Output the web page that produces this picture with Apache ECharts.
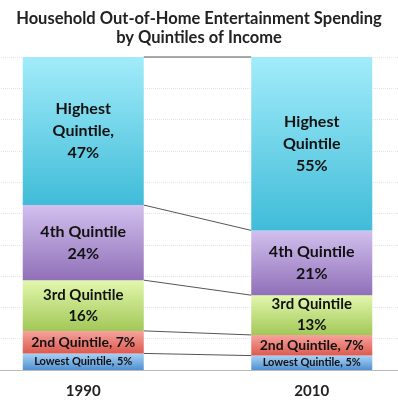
<!DOCTYPE html>
<html>
<head>
<meta charset="utf-8">
<script src="https://cdn.jsdelivr.net/npm/echarts@6/dist/echarts.min.js"></script>
<style>
    html, body { margin: 0; padding: 0; background: #fff; }
    #chart { width: 398px; height: 403px; }
</style>
</head>
<body>
<div id="chart"></div>
<script>
const years = ['1990', '2010'];
const quintiles = ['Lowest', '2nd', '3rd', '4th', 'Highest'];
const share1990 = [5.3, 7.2, 16.2, 24, 47.3];
const share2010 = [4.6, 6.6, 12.7, 20.7, 55.4];
const labels1990 = ['Lowest Quintile, 5%', '2nd Quintile, 7%', '3rd Quintile\n16%', '4th Quintile\n24%', 'Highest\nQuintile,\n47%'];
const labels2010 = ['Lowest Quintile, 5%', '2nd Quintile, 7%', '3rd Quintile\n13%', '4th Quintile\n21%', 'Highest\nQuintile\n55%'];

const FONT = 'Lato, "Open Sans", sans-serif';
// top -> bottom gradient for each segment
const fills = [
    ['#a8d2f6', '#5090d0'],
    ['#f6a49e', '#dc5a50'],
    ['#e2f7ac', '#a2c858'],
    ['#d2c0ee', '#9070b8'],
    ['#a2ecfa', '#40bcd8'],
];
const labelSizes = [11, 14, 15, 16, 16];
const BAR_W = 121;

// cumulative tops for the connector lines
let c1 = 0, c2 = 0;
const joins = quintiles.map((q, i) => {
    c1 += share1990[i];
    c2 += share2010[i];
    return [0, c1, c2];
});

const series = quintiles.map((q, i) => ({
    name: q,
    type: 'bar',
    stack: 'total',
    barWidth: BAR_W,
    data: [share1990[i], share2010[i]],
    itemStyle: {
        color: new echarts.graphic.LinearGradient(0, 0, 0, 1, [
            { offset: 0, color: fills[i][0] },
            { offset: 1, color: fills[i][1] },
        ]),
    },
    label: {
        show: true,
        position: 'inside',
        color: '#111',
        fontFamily: FONT,
        fontWeight: 'bold',
        fontSize: labelSizes[i],
        lineHeight: labelSizes[i] + 6,
        formatter: (p) => (p.dataIndex === 0 ? labels1990 : labels2010)[i],
    },
    emphasis: { disabled: true },
}));

series.push({
    type: 'custom',
    data: joins,
    encode: { x: 0, y: [1, 2] },
    z: 1,
    renderItem: (params, api) => {
        const a = api.coord([0, api.value(1)]);
        const b = api.coord([1, api.value(2)]);
        return {
            type: 'line',
            shape: { x1: a[0] + BAR_W / 2, y1: a[1], x2: b[0] - BAR_W / 2, y2: b[1] },
            style: { stroke: '#555', lineWidth: 1 },
        };
    },
});

const option = {
    animation: false,
    title: {
        text: 'Household Out-of-Home Entertainment Spending\nby Quintiles of Income',
        left: 'center',
        top: 4,
        textStyle: {
            fontFamily: FONT,
            fontWeight: 'bold',
            fontSize: 16.5,
            lineHeight: 19,
            color: '#222',
        },
    },
    grid: {
        left: -31,
        right: -28,
        top: 57,
        bottom: 33,
        outerBoundsMode: 'none',
    },
    xAxis: {
        type: 'category',
        data: years,
        axisLine: { lineStyle: { color: '#bbb' } },
        axisTick: { length: 5, lineStyle: { color: '#bbb' } },
        axisLabel: {
            margin: 14,
            color: '#222',
            fontFamily: FONT,
            fontWeight: 'bold',
            fontSize: 15,
        },
    },
    yAxis: {
        type: 'value',
        min: 0,
        max: 100,
        interval: 10,
        axisLabel: { show: false },
        axisLine: { show: false },
        axisTick: { show: false },
        splitLine: { lineStyle: { color: '#e4e4e4', type: 'dotted' } },
    },
    series: series,
};

const myChart = echarts.init(document.getElementById('chart'));
myChart.setOption(option);
</script>
</body>
</html>
